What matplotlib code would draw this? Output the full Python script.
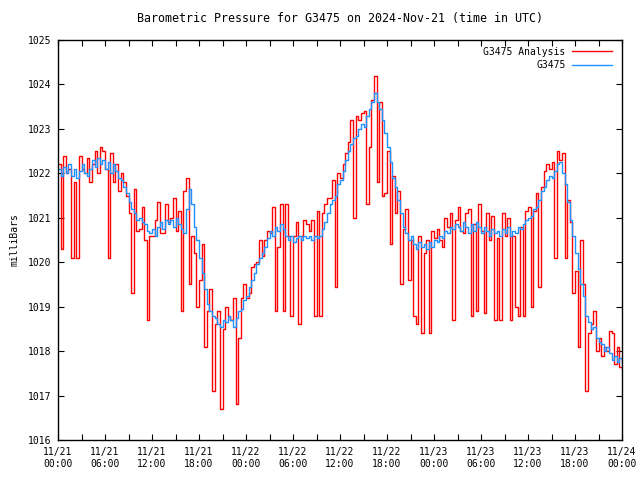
import numpy as np
import matplotlib
matplotlib.use('Agg')
import matplotlib.pyplot as plt

# hours since 11/21 00:00 UTC, one reading every 20 minutes
step_hours = 1 / 3

# G3475 observations (mb)
station = [
    1022.1, 1021.95, 1022.15, 1022.0, 1022.2, 1021.95, 1022.1, 1021.9, 1022.05, 1022.2,
    1022.0, 1021.95, 1022.1, 1022.3, 1022.15, 1022.35, 1022.2, 1022.3, 1022.1, 1022.25,
    1022.0, 1022.2, 1022.05, 1021.9, 1021.85, 1021.7, 1021.55, 1021.35, 1021.2, 1021.1,
    1020.95, 1021.0, 1020.9, 1020.85, 1020.7, 1020.65, 1020.75, 1020.6, 1020.8, 1020.9,
    1020.75, 1020.95, 1020.85, 1020.95, 1020.8, 1021.0, 1020.85, 1020.75, 1020.65, 1021.2,
    1021.65, 1021.3, 1020.8, 1020.5, 1020.1, 1019.75, 1019.4, 1019.05, 1018.9, 1018.8,
    1018.75, 1018.6, 1018.55, 1018.7, 1018.65, 1018.8, 1018.7, 1018.55, 1018.75, 1018.9,
    1018.95, 1019.15, 1019.25, 1019.45, 1019.6, 1019.75, 1019.95, 1020.1, 1020.2, 1020.35,
    1020.55, 1020.7, 1020.6, 1020.8, 1020.7, 1020.85, 1020.75, 1020.6, 1020.5, 1020.6,
    1020.45, 1020.55, 1020.6, 1020.5, 1020.6, 1020.55, 1020.6, 1020.5, 1020.6, 1020.55,
    1020.6, 1020.75, 1020.9, 1021.1, 1021.3, 1021.4, 1021.5, 1021.75, 1021.85, 1022.05,
    1022.3, 1022.5, 1022.65, 1022.8, 1022.85, 1023.0, 1023.1, 1023.05, 1023.3, 1023.45,
    1023.6, 1023.8, 1023.6, 1023.45, 1023.2, 1022.9, 1022.6, 1022.25, 1021.9, 1021.7,
    1021.4, 1021.1, 1020.8, 1020.65, 1020.5, 1020.6, 1020.4, 1020.3, 1020.45, 1020.35,
    1020.4, 1020.3, 1020.45, 1020.35, 1020.5, 1020.45, 1020.6, 1020.55, 1020.7, 1020.65,
    1020.8, 1020.75, 1020.85, 1020.8, 1020.7, 1020.9, 1020.8, 1020.65, 1020.85, 1020.7,
    1020.9, 1020.8, 1020.65, 1020.8, 1020.7, 1020.6, 1020.75, 1020.65, 1020.7, 1020.6,
    1020.75, 1020.65, 1020.8, 1020.6, 1020.7, 1020.65, 1020.8, 1020.75, 1020.85, 1020.95,
    1021.0, 1021.05, 1021.2, 1021.25, 1021.4, 1021.6, 1021.7, 1021.85, 1021.95, 1021.9,
    1022.05, 1022.2, 1022.25, 1022.0, 1021.75, 1021.35, 1020.95, 1020.6, 1020.2, 1019.85,
    1019.5, 1019.25, 1018.8, 1018.65, 1018.5, 1018.55, 1018.3, 1018.2, 1018.15, 1018.0,
    1018.1, 1017.95, 1017.8, 1017.9, 1017.75, 1017.85, 1017.7,
]

# G3475 analysis (mb), with the drop-outs
analysis = [
    1022.2, 1020.3, 1022.4, 1022.0, 1022.1, 1020.1, 1021.8, 1020.1, 1022.4, 1022.1,
    1022.0, 1022.35, 1021.8, 1022.2, 1022.5, 1022.0, 1022.6, 1022.5, 1022.1, 1020.1,
    1022.45, 1021.8, 1022.2, 1021.6, 1022.0, 1021.8, 1021.5, 1021.1, 1019.3, 1021.65,
    1020.7, 1020.75, 1021.25, 1020.5, 1018.7, 1020.6, 1020.6, 1020.95, 1021.35, 1020.65,
    1020.65, 1021.3, 1020.9, 1021.0, 1021.45, 1020.7, 1021.15, 1018.9, 1021.6, 1021.9,
    1019.5, 1020.6, 1020.2, 1019.0, 1019.6, 1020.4, 1018.1, 1018.9, 1019.4, 1017.1,
    1018.6, 1018.9, 1016.7, 1018.5, 1019.0, 1018.8, 1018.7, 1019.2, 1016.8, 1018.3,
    1019.2, 1019.5, 1019.2, 1019.3, 1019.9, 1019.95, 1020.0, 1020.5, 1020.15, 1020.5,
    1020.7, 1020.65, 1021.25, 1018.9, 1020.35, 1021.3, 1018.9, 1021.3, 1020.6, 1018.8,
    1020.6, 1020.9, 1018.6, 1020.6, 1020.95, 1020.85, 1020.7, 1020.95, 1018.8, 1021.15,
    1018.8, 1021.1, 1021.3, 1021.45, 1021.45, 1021.85, 1019.45, 1022.0, 1021.9, 1022.2,
    1022.45, 1022.7, 1023.2, 1021.0, 1023.3, 1023.2, 1023.35, 1023.4, 1021.3, 1022.6,
    1023.65, 1024.2, 1021.8, 1023.6, 1021.5, 1021.55, 1022.5, 1020.4, 1021.95, 1021.1,
    1021.6, 1019.5, 1020.75, 1021.2, 1019.6, 1020.5, 1018.8, 1018.6, 1020.6, 1018.4,
    1020.2, 1020.5, 1018.4, 1020.7, 1020.55, 1020.75, 1020.5, 1020.35, 1021.0, 1020.8,
    1021.1, 1018.7, 1020.95, 1021.25, 1020.7, 1020.65, 1021.1, 1021.2, 1018.8, 1020.85,
    1018.9, 1021.3, 1020.7, 1018.85, 1021.1, 1020.5, 1021.05, 1018.7, 1020.55, 1018.7,
    1021.1, 1020.6, 1021.0, 1018.7, 1020.6, 1019.0, 1018.8, 1020.8, 1018.8, 1021.15,
    1021.25, 1019.0, 1021.15, 1021.55, 1019.45, 1021.7, 1022.05, 1022.2, 1022.1, 1022.25,
    1020.1, 1022.5, 1022.3, 1022.45, 1020.1, 1021.4, 1020.9, 1019.3, 1019.8, 1018.1,
    1020.5, 1019.5, 1017.1, 1018.4, 1018.6, 1018.9, 1018.0, 1018.3, 1017.9, 1018.1,
    1018.0, 1018.45, 1018.4, 1017.7, 1018.1, 1017.65, 1017.6,
]

tick_labels = ['11/21\n00:00', '11/21\n06:00', '11/21\n12:00', '11/21\n18:00',
               '11/22\n00:00', '11/22\n06:00', '11/22\n12:00', '11/22\n18:00',
               '11/23\n00:00', '11/23\n06:00', '11/23\n12:00', '11/23\n18:00',
               '11/24\n00:00']

plt.rcParams['font.family'] = ['DejaVu Sans Mono']
plt.rcParams['font.size'] = 7

hours = np.arange(len(station)) * step_hours

fig = plt.figure(figsize=(6.4, 4.8), dpi=100)
ax = fig.add_axes([58 / 640, 40 / 480, 564 / 640, 400 / 480])

ax.plot(hours, analysis, color='#ff0000', lw=1.0, drawstyle='steps-post',
        label='G3475 Analysis')
ax.plot(hours, station, color='#1e90ff', lw=1.0, drawstyle='steps-post',
        label='G3475')

ax.set_xlim(0, 72)
ax.set_ylim(1016, 1025)
ax.set_xticks(np.arange(0, 73, 6))
ax.set_xticklabels(tick_labels)
ax.set_xticks(np.arange(0, 73, 3), minor=True)
ax.set_yticks(np.arange(1016, 1026, 1))
ax.tick_params(which='both', direction='in', top=True, right=True,
               length=4, width=0.8, pad=5)
for s in ax.spines.values():
    s.set_linewidth(1.0)

ax.set_ylabel('milliBars', labelpad=6)
ax.set_title('Barometric Pressure for G3475 on 2024-Nov-21 (time in UTC)', pad=13)

ax.legend(loc='upper right', bbox_to_anchor=(0.995, 1.0), frameon=False,
          markerfirst=False, handlelength=4.2, handletextpad=0.6,
          labelspacing=0.35, borderaxespad=0.3)

fig.savefig('out.png', dpi=100)
